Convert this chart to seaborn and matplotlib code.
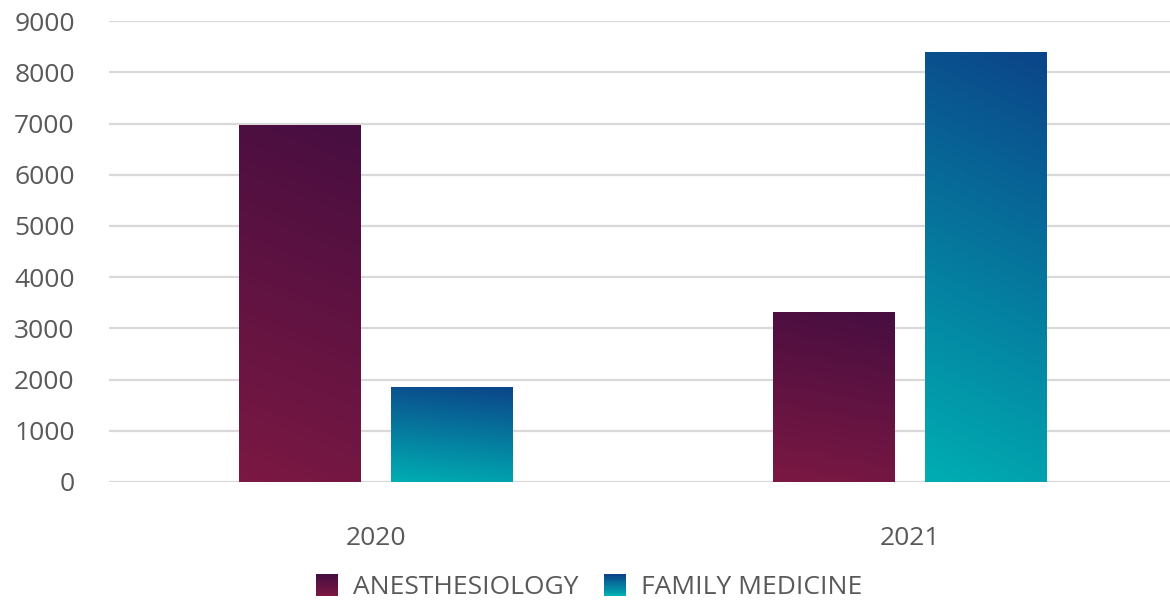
import numpy as np
import pandas as pd
import matplotlib
matplotlib.use("Agg")
import matplotlib.pyplot as plt
import seaborn as sns
from matplotlib.colors import LinearSegmentedColormap
from matplotlib.patches import Rectangle
from matplotlib.legend_handler import HandlerBase

years = ["2020", "2021"]
specialties = ["ANESTHESIOLOGY", "FAMILY MEDICINE"]
anesthesiology = [6970, 3310]
family_medicine = [1860, 8390]

grad_colors = {
    "ANESTHESIOLOGY": ("#7B1843", "#470E40"),   # bottom, top
    "FAMILY MEDICINE": ("#00AEB3", "#0B4489"),
}

df = pd.DataFrame({
    "year": years * 2,
    "specialty": [specialties[0]] * 2 + [specialties[1]] * 2,
    "value": anesthesiology + family_medicine,
})

sns.set_theme(style="white")
plt.rcParams["font.family"] = ["Open Sans", "DejaVu Sans"]

fig = plt.figure(figsize=(11.7, 6.03), dpi=100)
ax = fig.add_axes([0.0935, 0.2007, 0.912, 0.7643])

sns.barplot(data=df, x="year", y="value", hue="specialty", order=years,
            hue_order=specialties, width=0.57, gap=0.2, ax=ax,
            palette=[grad_colors[s][0] for s in specialties], legend=False,
            edgecolor="none")

ax.set_ylim(0, 9000)
ax.set_xlim(-0.5, 1.5)
ax.set_yticks(range(0, 9001, 1000))
ax.yaxis.grid(True, color="#D9D9D9", linewidth=1.6)
ax.set_axisbelow(True)
for s in ax.spines.values():
    s.set_visible(False)
ax.set_xlabel("")
ax.set_ylabel("")
ax.tick_params(axis="y", labelsize=19, labelcolor="#595959", length=0, pad=25)
ax.tick_params(axis="x", labelsize=19, labelcolor="#595959", length=0, pad=32)

# gradient fills clipped to each bar
n = 256
u, v = np.meshgrid(np.linspace(0, 1, n), np.linspace(0, 1, n))
bars = [p for p in ax.patches if isinstance(p, Rectangle)]
order = [(s, i) for s in specialties for i in range(len(years))]
for patch, (spec, i) in zip(bars, order):
    x0, y0 = patch.get_x(), patch.get_y()
    w, h = patch.get_width(), patch.get_height()
    cmap = LinearSegmentedColormap.from_list("g", list(grad_colors[spec]))
    t = np.clip(0.12 * u + 0.88 * v, 0, 1)
    im = ax.imshow(t, cmap=cmap, origin="lower", extent=[x0, x0 + w, y0, y0 + h],
                   aspect="auto", vmin=0, vmax=1, zorder=patch.get_zorder() + 0.1,
                   interpolation="bilinear")
    im.set_clip_path(patch)
ax.set_xlim(-0.5, 1.5)
ax.set_ylim(0, 9000)


class GradHandler(HandlerBase):
    def __init__(self, colors):
        super().__init__()
        self.colors = colors

    def create_artists(self, legend, orig_handle, xdescent, ydescent, width,
                       height, fontsize, trans):
        cmap = LinearSegmentedColormap.from_list("g", list(self.colors))
        size = height * 1.2
        x = xdescent + (width - size) / 2
        y = -ydescent - (size - height) / 2
        k = 12
        arts = []
        for j in range(k):
            r = Rectangle((x, y + size * j / k), size, size / k + 0.3,
                          facecolor=cmap(j / (k - 1)), edgecolor="none",
                          transform=trans)
            arts.append(r)
        return arts


handles = [Rectangle((0, 0), 1, 1) for _ in specialties]
hmap = {h: GradHandler(grad_colors[s]) for h, s in zip(handles, specialties)}
leg = fig.legend(handles, specialties, handler_map=hmap, loc="center",
                 bbox_to_anchor=(0.504, 0.025), ncol=2, frameon=False,
                 fontsize=19, handlelength=0.75, handletextpad=0.6,
                 columnspacing=1.0)
for txt in leg.get_texts():
    txt.set_color("#595959")

fig.savefig("out.png", dpi=100)
